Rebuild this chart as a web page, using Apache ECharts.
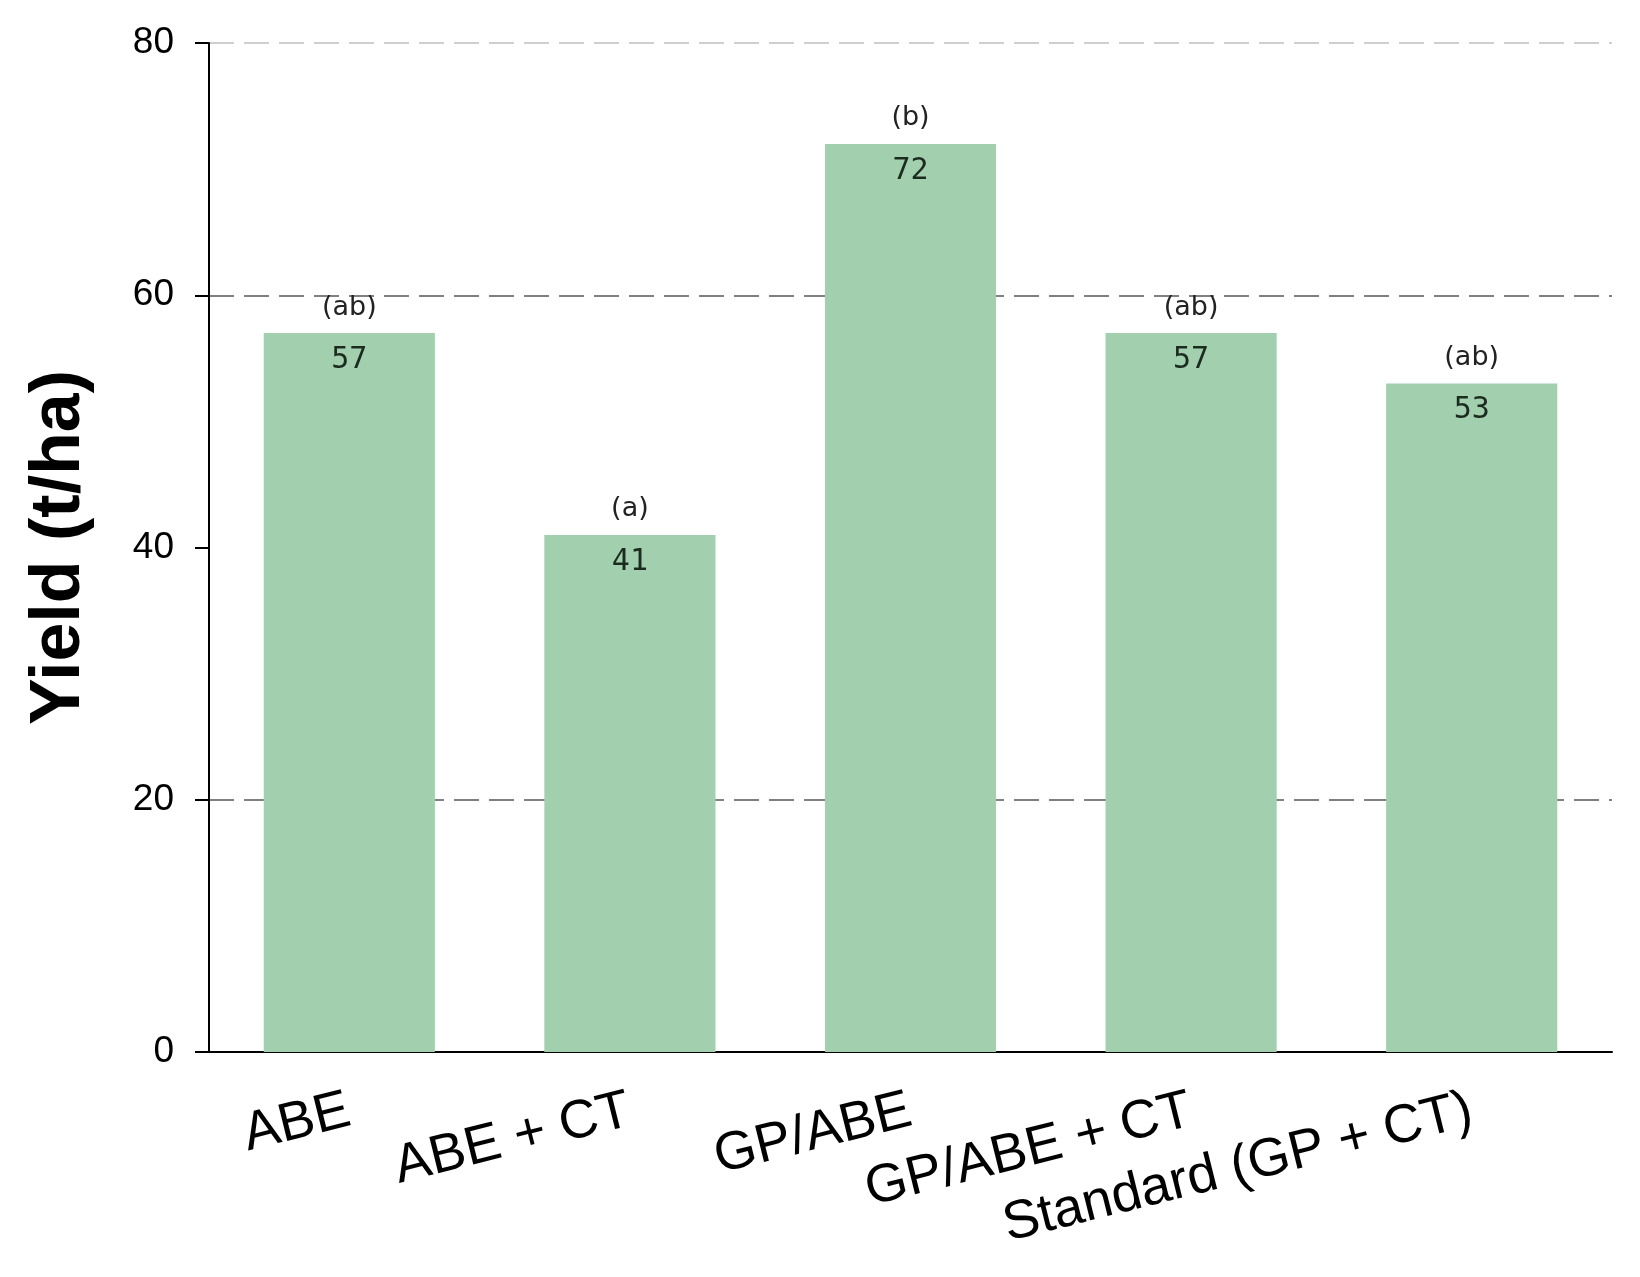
<!DOCTYPE html>
<html>
<head>
<meta charset="utf-8">
<script src="https://cdn.jsdelivr.net/npm/echarts@6/dist/echarts.min.js"></script>
<style>
  html, body { margin: 0; padding: 0; background: #fff; }
  #chart { width: 1640px; height: 1277px; }
</style>
</head>
<body>
<div id="chart"></div>
<script>
// treatments and mean yield (t/ha)
const categories = ['ABE', 'ABE + CT', 'GP/ABE', 'GP/ABE + CT', 'Standard (GP + CT)'];
const yieldValues = [57, 41, 72, 57, 53];
// significance groups printed above the bars
const groupLetters = ['(ab)', '(a)', '(b)', '(ab)', '(ab)'];
const yTicks = [0, 20, 40, 60, 80];

const chart = echarts.init(document.getElementById('chart'));

const option = {
  backgroundColor: '#fff',
  animation: false,
  grid: { left: 209, right: 28, top: 43, bottom: 225, containLabel: false },
  xAxis: {
    type: 'category',
    data: categories,
    axisLine: { lineStyle: { color: '#000', width: 2 } },
    axisTick: { alignWithLabel: true, length: 14, lineStyle: { color: '#000', width: 2 } },
    axisLabel: {
      rotate: 14,
      margin: 58,
      interval: 0,
      fontSize: 54,
      fontFamily: 'Liberation Sans',
      color: '#000'
    },
    splitLine: { show: false }
  },
  yAxis: {
    type: 'value',
    min: yTicks[0],
    max: yTicks[yTicks.length - 1],
    interval: 20,
    name: 'Yield (t/ha)',
    nameLocation: 'middle',
    nameGap: 114,
    nameTextStyle: {
      fontSize: 70,
      fontWeight: 'bold',
      fontFamily: 'Liberation Sans',
      color: '#000'
    },
    axisLine: { show: true, lineStyle: { color: '#000', width: 2 } },
    axisTick: { show: true, length: 14, lineStyle: { color: '#000', width: 2 } },
    axisLabel: {
      margin: 35,
      fontSize: 37,
      fontFamily: 'Liberation Sans',
      color: '#000'
    },
    splitLine: {
      show: true,
      lineStyle: {
        // 0, 20, 40, 60, 80 — the 40 line is not drawn in the original
        color: ['rgba(0,0,0,0)', '#808080', 'rgba(0,0,0,0)', '#808080', '#cfcfcf'],
        width: 2,
        type: [25, 10]
      }
    }
  },
  series: [
    {
      name: 'Yield',
      type: 'bar',
      data: yieldValues,
      barWidth: '61%',
      itemStyle: { color: '#a2d0af' },
      label: {
        show: true,
        position: 'insideTop',
        distance: 12,
        fontSize: 30,
        fontFamily: 'DejaVu Sans Mono',
        color: '#1c2b1f'
      },
      z: 3
    },
    {
      name: 'Group',
      type: 'bar',
      data: yieldValues,
      barWidth: '61%',
      barGap: '-100%',
      itemStyle: { color: 'rgba(0,0,0,0)' },
      label: {
        show: true,
        position: 'top',
        distance: 12,
        fontSize: 27,
        fontFamily: 'DejaVu Sans',
        color: '#222',
        formatter: (p) => groupLetters[p.dataIndex]
      },
      z: 4
    }
  ]
};

chart.setOption(option);
</script>
</body>
</html>
